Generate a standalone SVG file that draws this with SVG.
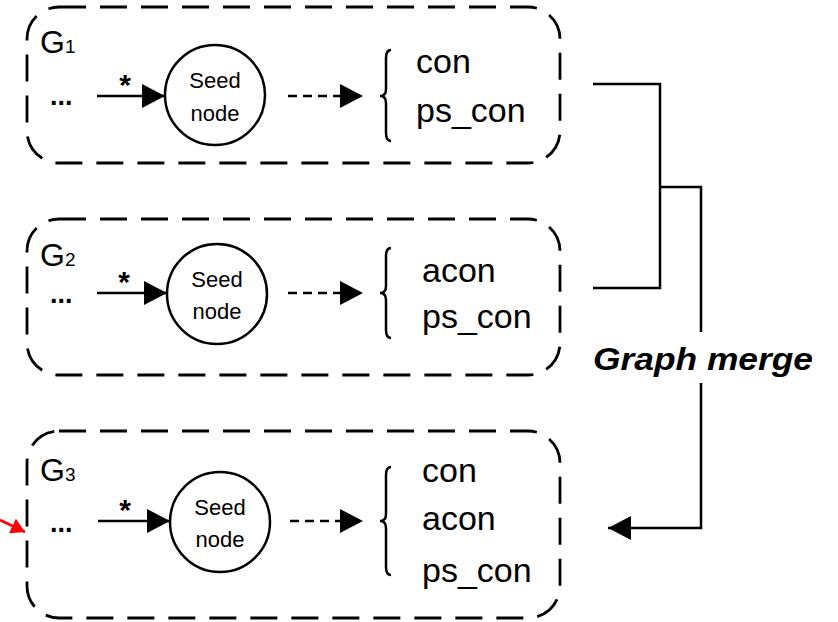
<svg xmlns="http://www.w3.org/2000/svg" width="838" height="622" viewBox="0 0 838 622">
<style>
.box{fill:none;stroke:#000;stroke-width:2.8;stroke-dasharray:27 14}
.ln{fill:none;stroke:#000;stroke-width:2.5}
.dl{fill:none;stroke:#000;stroke-width:2.5;stroke-dasharray:9 6}
.circ{fill:#fff;stroke:#000;stroke-width:2.5}
.br{fill:none;stroke:#000;stroke-width:2.5}
text{font-family:"Liberation Sans",Arial,sans-serif;fill:#000}
.gl{font-size:32px}
.sub{font-size:19px}
.dots{font-size:27px;font-weight:bold}
.star{font-size:30px;font-weight:bold;text-anchor:middle}
.seed{font-size:22px;text-anchor:middle}
.lab{font-size:34px}
.gm{font-size:32px;font-weight:bold;font-style:italic}
</style>
<defs>
<marker id="ah" markerUnits="userSpaceOnUse" markerWidth="24" markerHeight="24" refX="23" refY="12" orient="auto">
<path d="M0,0 L23,12 L0,24 Z" fill="#000"/>
</marker>
<marker id="ar" markerUnits="userSpaceOnUse" markerWidth="16" markerHeight="16" refX="14" refY="8" orient="auto">
<path d="M0,0 L14,8 L0,16 Z" fill="#f00"/>
</marker>
</defs>

<g id="G1">
<rect class="box" x="27" y="7" width="533" height="156" rx="32"/>
<text class="gl" x="40" y="53" style="font-size:32px">G<tspan class="sub" style="font-size:19px">1</tspan></text>
<text class="dots" x="50" y="105">...</text>
<text class="star" x="125" y="95">*</text>
<circle class="circ" cx="215" cy="95" r="50"/>
<text class="seed" x="215" y="88">Seed</text>
<text class="seed" x="215" y="121">node</text>
<path class="br" d="M391,50 Q386,50 386,58 L386,89 Q386,96 380,96 Q386,96 386,103 L386,133 Q386,141 391,141"/>
<text class="lab" x="416" y="73">con</text>
<text class="lab" x="416" y="122">ps_con</text>
</g>

<g id="G2">
<rect class="box" x="27" y="219" width="533" height="156" rx="32"/>
<text class="gl" x="40" y="266" style="font-size:32px">G<tspan class="sub" style="font-size:19px">2</tspan></text>
<text class="dots" x="50" y="303">...</text>
<text class="star" x="124" y="292">*</text>
<circle class="circ" cx="217" cy="294" r="50"/>
<text class="seed" x="217" y="287">Seed</text>
<text class="seed" x="217" y="319">node</text>
<path class="br" d="M391,248 Q386,248 386,256 L386,286 Q386,293 380,293 Q386,293 386,300 L386,330 Q386,338 391,338"/>
<text class="lab" x="422" y="282">acon</text>
<text class="lab" x="422" y="328">ps_con</text>
</g>

<g id="G3">
<rect class="box" x="27" y="431" width="533" height="187" rx="32"/>
<text class="gl" x="40" y="481" style="font-size:32px">G<tspan class="sub" style="font-size:19px">3</tspan></text>
<text class="dots" x="50" y="532">...</text>
<text class="star" x="125" y="520">*</text>
<circle class="circ" cx="220" cy="522" r="50"/>
<text class="seed" x="220" y="515">Seed</text>
<text class="seed" x="220" y="547">node</text>
<path class="br" d="M391,467 Q386,467 386,475 L386,514 Q386,521 380,521 Q386,521 386,528 L386,567 Q386,575 391,575"/>
<text class="lab" x="422" y="482">con</text>
<text class="lab" x="422" y="530">acon</text>
<text class="lab" x="422" y="582">ps_con</text>
</g>

<g id="merge-label">
<text class="gm" x="593" y="370" textLength="220" lengthAdjust="spacingAndGlyphs">Graph merge</text>
</g>

<g id="connectors">
<line class="ln" x1="97" y1="96" x2="165" y2="96" marker-end="url(#ah)"/>
<line class="dl" x1="288" y1="96" x2="363" y2="96" marker-end="url(#ah)"/>
<line class="ln" x1="97" y1="293" x2="167" y2="293" marker-end="url(#ah)"/>
<line class="dl" x1="288" y1="293" x2="363" y2="293" marker-end="url(#ah)"/>
<line class="ln" x1="98" y1="521" x2="170" y2="521" marker-end="url(#ah)"/>
<line class="dl" x1="290" y1="521" x2="363" y2="521" marker-end="url(#ah)"/>
<path class="ln" d="M593,84 L660,84 L660,288 L593,288"/>
<path class="ln" d="M660,187 L701,187 L701,332"/>
<path class="ln" d="M701,383 L701,528 L608,528" marker-end="url(#ah)"/>
<line x1="0" y1="520" x2="25" y2="532" stroke="#f00" stroke-width="2.5" marker-end="url(#ar)"/>
</g>
</svg>
